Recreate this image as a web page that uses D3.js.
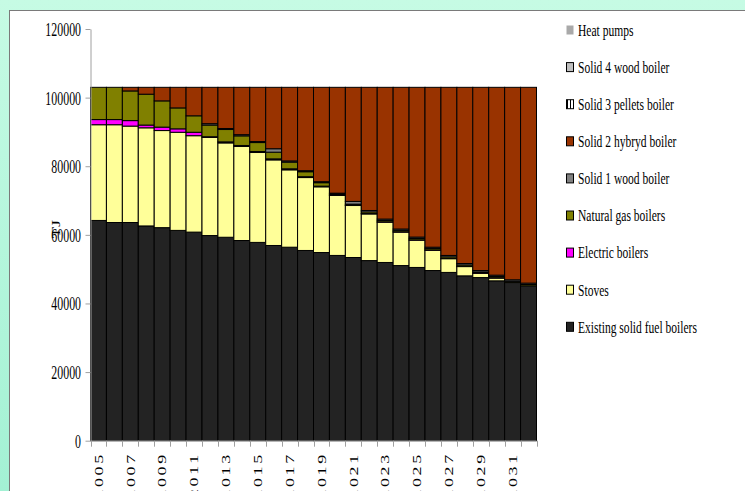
<!DOCTYPE html>
<html><head><meta charset="utf-8">
<script src="https://cdn.jsdelivr.net/npm/d3@7"></script>
<style>
html,body{margin:0;padding:0;}
body{width:745px;height:491px;overflow:hidden;background:linear-gradient(to bottom,#c6fbe4,#a3f1d4);}
svg{display:block;font-family:"Liberation Serif","Times New Roman",serif;}
</style></head><body>
<svg id="chart" width="745" height="491"></svg>
<script>
// Heat demand by technology, TJ per year
const years = [2005,2006,2007,2008,2009,2010,2011,2012,2013,2014,2015,2016,2017,2018,
               2019,2020,2021,2022,2023,2024,2025,2026,2027,2028,2029,2030,2031,2032];
const existingSolid = [64200,63600,63600,62600,62100,61300,60800,59800,59300,58350,57800,56900,56400,55450,
                       54850,54000,53400,52500,51950,51050,50500,49600,49050,48050,47550,46600,46100,45150];
const stoves = [27900,28500,28100,28600,28300,28600,28100,28600,27500,27400,26200,24950,22550,21250,
                19150,17500,15150,13600,11750,9750,7950,5900,4000,2700,1250,800,100,0];
const electricBoilers = [1500,1500,1600,800,1000,1000,1000,200,300,300,300,300,300,250,
                         200,100,100,100,100,100,100,100,100,100,100,100,0,0];
const naturalGas = [9400,9400,8650,9000,7650,6100,4800,3400,3600,2800,2600,1950,1950,1450,
                    1000,300,300,500,400,400,400,400,450,400,300,350,300,380];
const solid1Wood = [0,0,0,0,0,0,0,400,300,350,300,1000,350,300,
                    300,250,800,400,400,400,400,400,400,400,400,400,400,400];
const solid2Hybrid = [0,0,1050,2000,3950,6000,8300,10600,12000,13800,15800,17900,21450,24300,
                      27500,30850,33250,35900,38400,41300,43650,46600,49000,51350,53400,54750,56100,57070];
const solid3Pellets = [0,0,0,0,0,0,0,0,0,0,0,0,0,0,0,0,0,0,0,0,0,0,0,0,0,0,0,0];
const solid4Wood = [0,0,0,0,0,0,0,0,0,0,0,0,0,0,0,0,0,0,0,0,0,0,0,0,0,0,0,0];
const heatPumps = [0,0,0,0,0,0,0,0,0,0,0,0,0,0,0,0,0,0,0,0,0,0,0,0,0,0,0,0];
const yTicks = [0,20000,40000,60000,80000,100000,120000];

// series listed bottom of stack first
const series = [
  {key:"Existing solid fuel boilers", values:existingSolid, fill:"#232323", stroke:true},
  {key:"Stoves", values:stoves, fill:"#ffff99", stroke:true},
  {key:"Electric boilers", values:electricBoilers, fill:"#ff00ff", stroke:true},
  {key:"Natural gas boilers", values:naturalGas, fill:"#808000", stroke:true},
  {key:"Solid 1 wood boiler", values:solid1Wood, fill:"#808080", stroke:true},
  {key:"Solid 2 hybryd boiler", values:solid2Hybrid, fill:"#993300", stroke:true},
  {key:"Solid 3 pellets boiler", values:solid3Pellets, fill:"url(#pellets)", stroke:true},
  {key:"Solid 4 wood boiler", values:solid4Wood, fill:"#c0c0c0", stroke:true},
  {key:"Heat pumps", values:heatPumps, fill:"#a9a9a9", stroke:false}
];

const rows = years.map((yr,i)=>{
  const r = {year:yr};
  series.forEach(s=>{ r[s.key] = s.values[i]; });
  return r;
});

const svg = d3.select("#chart");
const defs = svg.append("defs");
const pat = defs.append("pattern").attr("id","pellets").attr("patternUnits","userSpaceOnUse")
  .attr("width",3).attr("height",4);
pat.append("rect").attr("width",3).attr("height",4).attr("fill","#fff");
pat.append("rect").attr("x",1).attr("width",1).attr("height",4).attr("fill","#000");

// white chart panel
svg.append("rect").attr("x",9.5).attr("y",10.5).attr("width",760).attr("height",500)
  .attr("fill","#fff").attr("stroke","#7a7a7a").attr("stroke-width",1);

const x = d3.scaleBand().domain(years).range([90.5,536.5]).padding(0);
const y = d3.scaleLinear().domain([0,120000]).range([440.7,29]);

const stack = d3.stack().keys(series.map(s=>s.key));
const layers = stack(rows);

const gBars = svg.append("g");
layers.forEach((layer,li)=>{
  const s = series[li];
  gBars.selectAll(null).data(layer.filter(d=>d[1]-d[0]>0)).enter().append("rect")
    .attr("x",d=>x(d.data.year))
    .attr("width",x.bandwidth())
    .attr("y",d=>y(d[1]))
    .attr("height",d=>y(d[0])-y(d[1]))
    .attr("fill",s.fill)
    .attr("stroke",s.stroke?"#000":"none")
    .attr("stroke-width",1);
});

// y axis
const SY = 0.66; // condensed glyph width for axis numbers
const yAxis = svg.append("g").attr("transform","translate(90.5,0)")
  .call(d3.axisLeft(y).tickValues(yTicks).tickSize(5).tickSizeOuter(0).tickFormat(d=>String(d)));
yAxis.select(".domain").attr("stroke","#a0a0a0");
yAxis.selectAll(".tick line").attr("stroke","#a0a0a0");
yAxis.selectAll(".tick text")
  .attr("x",-9.5/SY).attr("dy","0.36em")
  .attr("transform",`scale(${SY},1)`)
  .attr("font-size",18).attr("font-family","Liberation Serif").attr("fill","#000");

// x axis: baseline and boundary ticks
const gx = svg.append("g");
gx.append("line").attr("x1",x.range()[0]).attr("x2",x.range()[1])
  .attr("y1",y(0)+0.3).attr("y2",y(0)+0.3).attr("stroke","#a0a0a0");
const bounds = years.map(v=>x(v)).concat([x(years[years.length-1])+x.bandwidth()]);
gx.selectAll(null).data(bounds).enter().append("line")
  .attr("x1",d=>Math.round(d)+0.5).attr("x2",d=>Math.round(d)+0.5)
  .attr("y1",y(0)).attr("y2",y(0)+6).attr("stroke","#a0a0a0");
gx.selectAll(null).data(years.filter((v,i)=>i%2===0)).enter().append("text")
  .attr("transform",d=>`translate(${x(d)+x.bandwidth()/2},452) scale(${SY},1) rotate(-90)`)
  .attr("text-anchor","end").attr("dominant-baseline","central")
  .attr("font-size",18).attr("letter-spacing","2.7px")
  .text(d=>String(d));

// y title
svg.append("text")
  .attr("transform",`translate(56,229) scale(${SY},1) rotate(-90)`)
  .attr("text-anchor","middle").attr("dominant-baseline","central")
  .attr("font-size",18).text("TJ");

// legend, top entry is the top of the stack
const SL = 0.68;
const legendItems = series.slice().reverse();
const lg = svg.append("g").attr("transform","translate(566,30)");
const item = lg.selectAll(null).data(legendItems).enter().append("g")
  .attr("transform",(d,i)=>`translate(0,${i*37.1})`);
item.append("rect").attr("x",0.5).attr("y",-4.5).attr("width",7).attr("height",9)
  .attr("fill",d=>d.fill).attr("stroke",d=>d.stroke?"#000":"none");
item.append("text")
  .attr("transform",`translate(12,0) scale(${SL},1)`)
  .attr("dominant-baseline","central").attr("font-size",17)
  .text(d=>d.key);
</script></body></html>
